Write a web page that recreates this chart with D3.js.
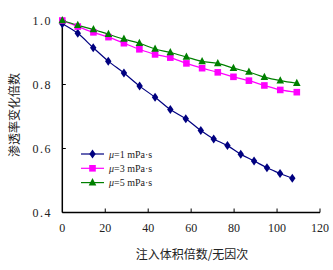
<!DOCTYPE html>
<html>
<head>
<meta charset="utf-8">
<script src="https://cdn.jsdelivr.net/npm/d3@7"></script>
<style>
  body { margin: 0; background: #fff; }
  text { font-family: "Liberation Serif", "Times New Roman", serif; }
  .cjk { font-family: "Noto Sans CJK SC", sans-serif; }
</style>
</head>
<body>
<div class="chart"></div>
<script>
// dati
const xBlue = [0, 7.2, 14.4, 21.4, 28.7, 36.0, 43.2, 50.3, 57.5, 64.5, 70.5, 76.9, 83.1, 89.3, 95.3, 101.4, 107.1];
const yBlue = [0.99, 0.960, 0.915, 0.873, 0.836, 0.795, 0.760, 0.722, 0.693, 0.656, 0.630, 0.609, 0.582, 0.561, 0.540, 0.522, 0.507];
const xOther = [0, 7.2, 14.5, 21.5, 28.7, 35.9, 43.2, 50.3, 57.8, 65.1, 72.4, 79.7, 86.9, 94.1, 101.5, 109.2];
const yPink = [1.0, 0.981, 0.963, 0.948, 0.929, 0.910, 0.894, 0.884, 0.866, 0.851, 0.838, 0.824, 0.812, 0.797, 0.783, 0.776];
const yGreen = [1.0, 0.985, 0.972, 0.957, 0.942, 0.929, 0.911, 0.900, 0.886, 0.872, 0.866, 0.851, 0.839, 0.823, 0.812, 0.804];
const seriesNames = ["=1 mPa·s", "=3 mPa·s", "=5 mPa·s"];
const xTicks = [0, 20, 40, 60, 80, 100, 120];
const yTicks = [0.4, 0.6, 0.8, 1.0];
const xTitle = "注入体积倍数/无因次";
const yTitle = "渗透率变化倍数";

const width = 333, height = 270;
const svg = d3.select('.chart').append('svg')
    .attr('width', width)
    .attr('height', height);

const x = d3.scaleLinear().domain([0, 120]).range([62.3, 320]);
const y = d3.scaleLinear().domain([0.4, 1.0]).range([212.5, 20.5]);

const series = [
  { xs: xBlue, ys: yBlue, color: "#000080", shape: "diamond" },
  { xs: xOther, ys: yPink, color: "#FF00FF", shape: "square" },
  { xs: xOther, ys: yGreen, color: "#008000", shape: "triangle" }
];

function marker(g, shape, color) {
  if (shape === "diamond") {
    g.append('path').attr('d', 'M0,-4.5L3.2,0L0,4.5L-3.2,0Z').attr('fill', color);
  } else if (shape === "square") {
    g.append('rect').attr('x', -3.3).attr('y', -3.3).attr('width', 6.6).attr('height', 6.6).attr('fill', color);
  } else {
    g.append('path').attr('d', 'M0,-4.5L3.8,2.8L-3.8,2.8Z').attr('fill', color);
  }
}

// assi
svg.append('line').attr('x1', x(0)).attr('x2', x(0)).attr('y1', y(1.0)).attr('y2', y(0.4))
    .attr('stroke', '#000').attr('stroke-width', 1.5);
svg.append('line').attr('x1', x(0)).attr('x2', x(120)).attr('y1', y(0.4)).attr('y2', y(0.4))
    .attr('stroke', '#000').attr('stroke-width', 1.5);

xTicks.forEach(t => {
  if (t > 0) {
    svg.append('line').attr('x1', x(t)).attr('x2', x(t)).attr('y1', y(0.4)).attr('y2', y(0.4) - 4)
        .attr('stroke', '#000').attr('stroke-width', 1);
  }
  svg.append('text').attr('x', x(t)).attr('y', 232)
      .attr('text-anchor', 'middle').attr('font-size', 12).attr('fill', '#222')
      .text(t);
});

yTicks.forEach(t => {
  svg.append('line').attr('x1', x(0)).attr('x2', x(0) + 3.5).attr('y1', y(t)).attr('y2', y(t))
      .attr('stroke', '#000').attr('stroke-width', 1);
  svg.append('text').attr('x', 52).attr('y', y(t) + 4.5)
      .attr('text-anchor', 'end').attr('font-size', 12).attr('fill', '#222')
      .attr('letter-spacing', 1.5)
      .text(t.toFixed(1));
});

svg.append('text').attr('class', 'cjk').attr('x', 192).attr('y', 259)
    .attr('text-anchor', 'middle').attr('font-size', 12).attr('fill', '#222')
    .text(xTitle);
svg.append('text').attr('class', 'cjk')
    .attr('transform', 'translate(19,115) rotate(-90)')
    .attr('text-anchor', 'middle').attr('font-size', 12).attr('fill', '#222')
    .text(yTitle);

// linee e marcatori
const line = d3.line().curve(d3.curveCatmullRom.alpha(0.5));
series.forEach(s => {
  const pts = s.xs.map((v, i) => [x(v), y(s.ys[i])]);
  svg.append('path').attr('d', line(pts)).attr('fill', 'none')
      .attr('stroke', s.color).attr('stroke-width', 1.2);
});
series.forEach(s => {
  s.xs.forEach((v, i) => {
    const g = svg.append('g').attr('transform', `translate(${x(v)},${y(s.ys[i])})`);
    marker(g, s.shape, s.color);
  });
});

// legenda
series.forEach((s, i) => {
  const ly = 154 + i * 14.3;
  svg.append('line').attr('x1', 81).attr('x2', 104).attr('y1', ly).attr('y2', ly)
      .attr('stroke', s.color).attr('stroke-width', 1.2);
  const g = svg.append('g').attr('transform', `translate(92.5,${ly})`);
  marker(g, s.shape, s.color);
  const t = svg.append('text').attr('x', 109).attr('y', ly + 3.5)
      .attr('font-size', 10).attr('fill', '#222');
  t.append('tspan').attr('font-style', 'italic').text('μ');
  t.append('tspan').text(seriesNames[i]);
});
</script>
</body>
</html>
